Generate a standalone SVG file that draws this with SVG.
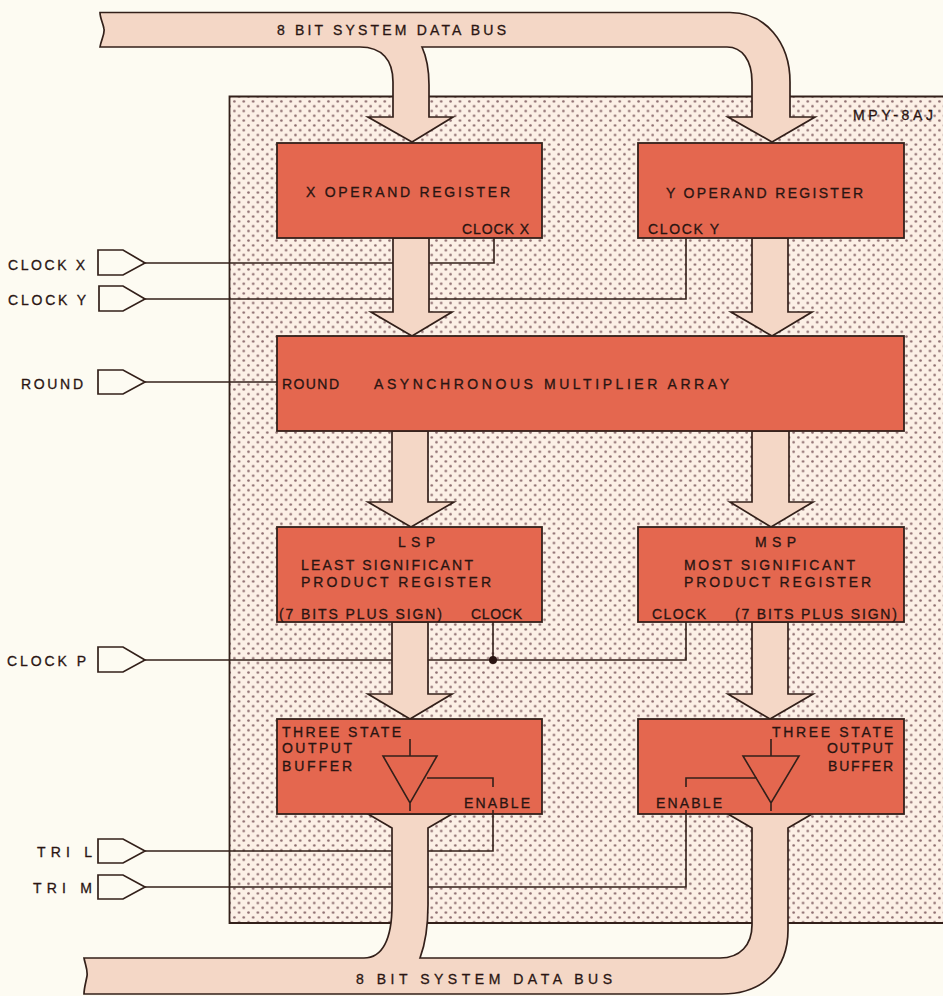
<svg xmlns="http://www.w3.org/2000/svg" width="943" height="996" viewBox="0 0 943 996">
<style>
text{font-family:"Liberation Sans",Arial,sans-serif;font-size:14px;fill:#2a1512;stroke:#2a1512;stroke-width:.3}
.reg{fill:#e4674f;stroke:#33201a;stroke-width:1.8}
.bus{fill:#f4d7c6;stroke:#33201a;stroke-width:1.7;stroke-linejoin:miter}
.w{fill:none;stroke:#33201a;stroke-width:1.6}
.pin{fill:#fdfbf2;stroke:#33201a;stroke-width:1.7}
</style>
<defs>
<pattern id="dots" width="9.4" height="9.6" patternUnits="userSpaceOnUse" x="232" y="99">
<rect width="9.4" height="9.6" fill="#fcf0e6"/>
<circle cx="2.4" cy="2.4" r="1.3" fill="#8a6a6c"/>
<circle cx="7.1" cy="7.2" r="1.3" fill="#8a6a6c"/>
</pattern>
</defs>
<rect width="943" height="996" fill="#fdfbf2"/>
<g id="chip">
<path d="M945 96.500H229.500V923H945" fill="url(#dots)" stroke="#33201a" stroke-width="1.8"/>
<text x="853" y="120" textLength="80">MPY-8AJ</text>
</g>
<g id="connectors">
<path class="w" d="M145 263H494V238"/>
<path class="w" d="M145 299H686V238"/>
<path class="w" d="M145 382H277"/>
<path class="w" d="M145 660H686V622"/>
<path class="w" d="M493 660V622"/>
<circle cx="493" cy="660" r="4" fill="#2a1512"/>
<path class="w" d="M145 851H493V811"/>
<path class="w" d="M145 887H686V811"/>
</g>
<g id="arrows">
<path class="bus" d="M100 12.500H730C765 12.500 790 42 790 82V117H815L772 142L728 117H752V82C752 60 742 47 727 47H422C427 58 429 70 429 85V117H453L412 142L368 117H393V82C393 60 382 47 360 47H100C101 40 105 34 104 29C103 23 100 18 100 12.500Z"/>
<path class="bus" d="M393 238V312H371L412 336L452 312H429V238Z"/>
<path class="bus" d="M752 238V312H731L772 336L812 312H788V238Z"/>
<path class="bus" d="M392 431V502H368L411 527L454 502H428V431Z"/>
<path class="bus" d="M752 431V502H730L771 527L813 502H789V431Z"/>
<path class="bus" d="M392 622V694H368L410 719L452 694H428V622Z"/>
<path class="bus" d="M752 622V694H728L770 719L813 694H788V622Z"/>
<path class="bus" d="M368 814L392 828V905C392 940 382 958 364 958H84C85 964 88 970 87 976C86 982 84 988 84 994H722C762 994 788 970 788 930V828L812 814H728L752 828V925C752 945 740 958 720 958H420C426 942 428 925 428 905V828L452 814Z"/>
</g>
<g id="x-register"><rect class="reg" x="277" y="143" width="265" height="95"/><text x="306" y="197" textLength="204">X OPERAND REGISTER</text><text x="462" y="234" textLength="67">CLOCK X</text></g>
<g id="y-register"><rect class="reg" x="638" y="143" width="266" height="95"/><text x="666" y="198" textLength="197">Y OPERAND REGISTER</text><text x="648" y="234" textLength="71">CLOCK Y</text></g>
<g id="multiplier"><rect class="reg" x="277" y="336" width="627" height="95"/><text x="282" y="389" textLength="57">ROUND</text><text x="374" y="389" textLength="355">ASYNCHRONOUS MULTIPLIER ARRAY</text></g>
<g id="lsp"><rect class="reg" x="277" y="527" width="265" height="95"/><text x="398" y="547" textLength="37">LSP</text><text x="301" y="570" textLength="172">LEAST SIGNIFICANT</text><text x="301" y="587" textLength="190">PRODUCT REGISTER</text><text x="279" y="619" textLength="163">(7 BITS PLUS SIGN)</text><text x="471" y="619" textLength="51">CLOCK</text></g>
<g id="msp"><rect class="reg" x="638" y="527" width="266" height="95"/><text x="755" y="547" textLength="41">MSP</text><text x="684" y="570" textLength="171">MOST SIGNIFICANT</text><text x="684" y="587" textLength="187">PRODUCT REGISTER</text><text x="652" y="619" textLength="54">CLOCK</text><text x="735" y="619" textLength="162">(7 BITS PLUS SIGN)</text></g>
<g id="buffer-l"><rect class="reg" x="277" y="719" width="265" height="95"/><text x="282" y="737" textLength="119">THREE STATE</text><text x="282" y="753" textLength="70">OUTPUT</text><text x="282" y="771" textLength="70">BUFFER</text><text x="464" y="808" textLength="66">ENABLE</text><path class="w" d="M410 739V756M383 756H437L410 803ZM410 803V811M427 778H493V787M493 810V814"/></g>
<g id="buffer-m"><rect class="reg" x="638" y="719" width="266" height="95"/><text x="772" y="737" textLength="121">THREE STATE</text><text x="827" y="753" textLength="66">OUTPUT</text><text x="828" y="771" textLength="65">BUFFER</text><text x="656" y="808" textLength="66">ENABLE</text><path class="w" d="M771 739V756M743 756H799L771 803ZM771 803V811M757 778H686V787M686 810V814"/></g>
<g id="bus-labels"><text x="277" y="35" textLength="229">8 BIT SYSTEM DATA BUS</text><text x="356" y="984" textLength="256">8 BIT SYSTEM DATA BUS</text></g>
<g id="pin-clock-x"><path class="pin" d="M98 250H123L145 263L123 275H98Z"/><text x="8" y="270" textLength="77">CLOCK X</text></g>
<g id="pin-clock-y"><path class="pin" d="M99 286H123L145 299L123 311H99Z"/><text x="8" y="305" textLength="78">CLOCK Y</text></g>
<g id="pin-round"><path class="pin" d="M98 370H123L145 382L123 394H98Z"/><text x="21" y="389" textLength="62">ROUND</text></g>
<g id="pin-clock-p"><path class="pin" d="M98 647H123L145 660L123 672H98Z"/><text x="7" y="666" textLength="79">CLOCK P</text></g>
<g id="pin-tri-l"><path class="pin" d="M98 839H123L145 851L123 863H98Z"/><text x="37" y="857" textLength="55">TRI L</text></g>
<g id="pin-tri-m"><path class="pin" d="M98 875H123L145 887L123 899H98Z"/><text x="33" y="893" textLength="59">TRI M</text></g>
</svg>
